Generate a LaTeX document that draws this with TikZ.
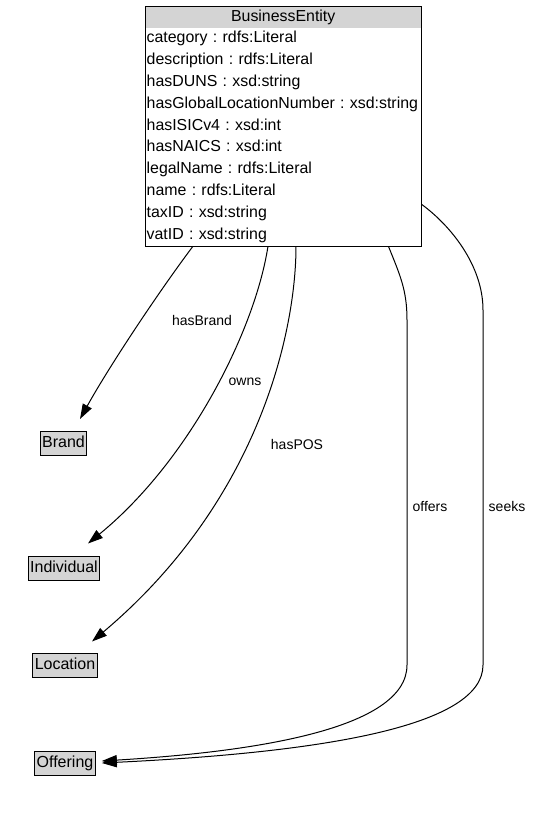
\documentclass[tikz,border=0pt]{standalone}
\usepackage{fontspec}
\setmainfont{Liberation Sans}
\usetikzlibrary{matrix,arrows.meta}
\definecolor{hdrgray}{RGB}{212,212,212}
\frenchspacing

\begin{document}
\begin{tikzpicture}[x=1pt,y=-1pt,
	class/.style={draw,fill=hdrgray,font=\fontsize{16}{19}\selectfont,text height=12pt,text depth=4pt,inner xsep=2pt,inner ysep=4pt,line width=1pt},
	prop/.style={font=\fontsize{14}{17}\selectfont},
	rel/.style={line width=1pt,-{Triangle[length=15pt,width=10pt]}}]
	\useasboundingbox (0,0) rectangle (537,814);
	\matrix (be) [matrix of nodes,anchor=north west,inner sep=0pt,row sep=0pt,
		nodes={text width=273pt,inner xsep=1.5pt,inner ysep=2.9pt,text height=12pt,text depth=4pt,font=\fontsize{15.9}{19}\selectfont,anchor=center},
		row 1/.style={nodes={fill=hdrgray,align=center}}] at (145,6)
    {
        BusinessEntity \\
        category : rdfs:Literal \\
        description : rdfs:Literal \\
        hasDUNS : xsd:string \\
        hasGlobalLocationNumber : xsd:string \\
        hasISICv4 : xsd:int \\
        hasNAICS : xsd:int \\
        legalName : rdfs:Literal \\
        name : rdfs:Literal \\
        taxID : xsd:string \\
        vatID : xsd:string \\
    };
	\draw[line width=1pt] (be.north west) rectangle (be.south east);

	\node[class] (brand) at (63.5,443.5) {Brand};
	\node[class] (indiv) at (64,568.5) {Individual};
	\node[class] (loc)   at (65,665.5) {Location};
	\node[class] (off)   at (65,763)   {Offering};

	\draw[rel] ([xshift=48pt]be.south west) .. controls (160,290) and (110,365) .. ([xshift=16.5pt,yshift=12pt]brand.north);
	\draw[rel] ([xshift=123pt]be.south west) .. controls (255,330) and (190,460) .. ([xshift=24pt,yshift=12.5pt]indiv.north);
	\draw[rel] ([xshift=151pt]be.south west) .. controls (296,330) and (260,500) .. ([xshift=27pt,yshift=11.5pt]loc.north);
	\draw[rel] ([xshift=-33pt]be.south east) .. controls (400,275) and (407,290) .. (407,320) -- (407,665)
		.. controls (407,730) and (250,752) .. ([xshift=6pt,yshift=2pt]off.east);
	\draw[rel] ([yshift=42pt]be.south east) .. controls (450,225) and (483,265) .. (483,310) -- (483,665)
		.. controls (483,725) and (330,752) .. ([xshift=6pt]off.east);

	\node[prop] (lbrand)  at (202,320) {hasBrand};
	\node[prop] (lowns)   at (245,382) {owns};
	\node[prop] (lpos)    at (297,444) {hasPOS};
	\node[prop] (loffers) at (430,506) {offers};
	\node[prop] (lseeks)  at (507,506) {seeks};
\end{tikzpicture}
\end{document}
